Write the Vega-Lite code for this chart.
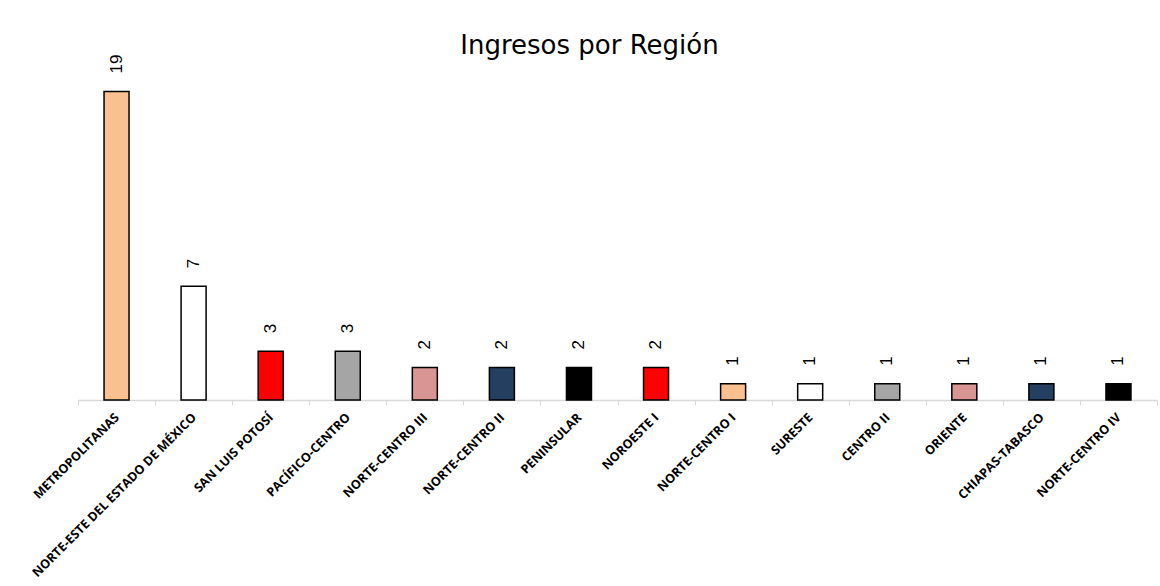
{
  "$schema": "https://vega.github.io/schema/vega-lite/v6.json",
  "autosize": "none",
  "width": 1079,
  "height": 341,
  "padding": {"left": 78, "top": 59, "right": 3, "bottom": 186},
  "background": "white",
  "title": {
    "text": "Ingresos por Región",
    "font": "DejaVu Sans",
    "fontSize": 26,
    "fontWeight": "normal",
    "color": "#000000",
    "anchor": "middle",
    "frame": "group",
    "baseline": "alphabetic",
    "offset": 2,
    "dx": -28,
    "dy": 27
  },
  "config": {"view": {"stroke": null}},
  "data": {
    "values": [
      {"region": "METROPOLITANAS", "ingresos": 19, "color": "#FAC090"},
      {"region": "NORTE-ESTE DEL ESTADO DE MÉXICO", "ingresos": 7, "color": "#FFFFFF"},
      {"region": "SAN LUIS POTOSÍ", "ingresos": 3, "color": "#FF0000"},
      {"region": "PACÍFICO-CENTRO", "ingresos": 3, "color": "#A5A5A5"},
      {"region": "NORTE-CENTRO III", "ingresos": 2, "color": "#D99594"},
      {"region": "NORTE-CENTRO II", "ingresos": 2, "color": "#243F60"},
      {"region": "PENINSULAR", "ingresos": 2, "color": "#000000"},
      {"region": "NOROESTE I", "ingresos": 2, "color": "#FF0000"},
      {"region": "NORTE-CENTRO I", "ingresos": 1, "color": "#FAC090"},
      {"region": "SURESTE", "ingresos": 1, "color": "#FFFFFF"},
      {"region": "CENTRO II", "ingresos": 1, "color": "#A5A5A5"},
      {"region": "ORIENTE", "ingresos": 1, "color": "#D99594"},
      {"region": "CHIAPAS-TABASCO", "ingresos": 1, "color": "#243F60"},
      {"region": "NORTE-CENTRO IV", "ingresos": 1, "color": "#000000"}
    ]
  },
  "encoding": {
    "x": {
      "field": "region",
      "type": "nominal",
      "sort": null,
      "scale": {"paddingInner": 0, "paddingOuter": 0},
      "axis": {
        "title": null,
        "labelAngle": -45,
        "labelAlign": "right",
        "labelBaseline": "middle",
        "labelFont": "Open Sans",
        "labelFontWeight": "bold",
        "labelFontSize": 12.5,
        "labelColor": "#000000",
        "labelPadding": 10,
        "labelLimit": 400,
        "domainColor": "#D9D9D9",
        "domainWidth": 1.5,
        "tickColor": "#D9D9D9",
        "tickSize": 5,
        "tickBand": "extent",
        "labelOverlap": false
      }
    },
    "y": {
      "field": "ingresos",
      "type": "quantitative",
      "scale": {"domain": [0, 21]},
      "axis": null
    }
  },
  "layer": [
    {
      "mark": {"type": "bar", "width": 25, "stroke": "#000000", "strokeWidth": 1.5},
      "encoding": {
        "fill": {"field": "color", "type": "nominal", "scale": null}
      }
    },
    {
      "mark": {
        "type": "text",
        "angle": -90,
        "align": "left",
        "baseline": "middle",
        "dx": 18,
        "font": "Liberation Sans",
        "fontSize": 17,
        "color": "#000000"
      },
      "encoding": {
        "text": {"field": "ingresos", "type": "quantitative"}
      }
    }
  ]
}
